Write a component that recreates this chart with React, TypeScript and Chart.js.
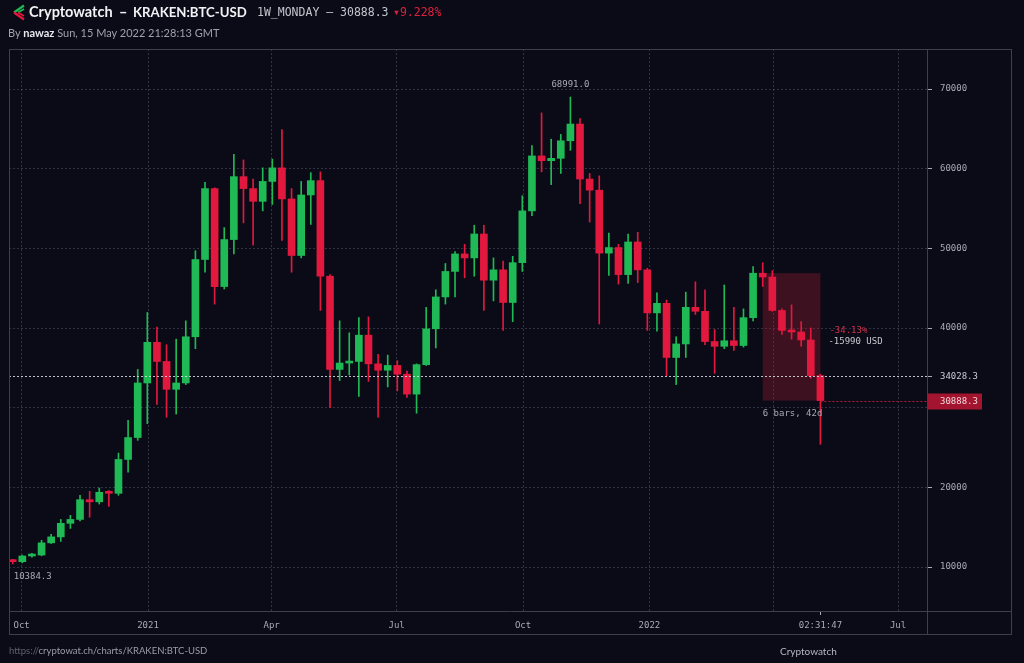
import React, { useEffect, useRef } from "react";
import { Chart, registerables } from "chart.js";

Chart.register(...registerables);

// ---------- DATA ----------
const firstWeek = "2020-09-28"; // weekly candles (Monday open), 85 weeks

const opens = [
  10780, 10670, 11380, 11500, 13030, 13780, 15480, 15970, 18450, 18180,
  19380, 19250, 23500, 26250, 33100, 38200, 35800, 32300, 33100, 38900,
  48600, 57500, 45200, 51100, 59000, 57500, 55900, 58400, 60100, 56200,
  49100, 56700, 58500, 46500, 34800, 35600, 35800, 39100, 35500, 34700,
  35300, 34200, 31700, 35400, 39900, 43900, 47100, 49300, 48800, 51800,
  46000, 47300, 43200, 48200, 54700, 61600, 61000, 61300, 63500, 65600,
  58700, 57300, 49400, 50100, 46700, 50800, 47300, 41900, 43100, 36300,
  38000, 42600, 42100, 38300, 37700, 38400, 37800, 41300, 46878.3, 46400,
  42200, 39700, 39500, 38500, 34028.3,
];

const highs = [
  10960, 11490, 11720, 13350, 14100, 15970, 16480, 19000, 19500, 19920,
  19600, 24300, 28400, 34800, 41950, 40100, 37900, 38600, 40900, 49700,
  58300, 57600, 52600, 61800, 61100, 58700, 60100, 61200, 64900, 57500,
  58400, 59500, 59600, 46700, 40900, 39400, 41300, 41400, 36700, 36600,
  35900, 34600, 35500, 42600, 44800, 48100, 49600, 50500, 52900, 52900,
  48800, 48400, 49000, 56600, 62900, 67000, 63700, 64300, 68991.0, 66300,
  59400, 59100, 51900, 50500, 51800, 52000, 47500, 44400, 43500, 38900,
  44500, 45800, 44800, 39800, 45400, 42600, 42400, 47700, 48200, 47200,
  42400, 42900, 40800, 40000, 34200,
];

const lows = [
  10384.3, 10530, 11220, 11410, 12950, 13210, 14840, 15790, 16250, 17900,
  17600, 19000, 21900, 25900, 28000, 30400, 28800, 29200, 32900, 37400,
  47000, 43000, 44900, 49300, 53200, 50400, 54700, 55500, 51000, 47000,
  48800, 53000, 42200, 30000, 33400, 34100, 31400, 33300, 28800, 32600,
  32100, 31300, 29300, 35300, 37500, 43000, 43900, 46300, 46500, 42200,
  43400, 39700, 40800, 47100, 54100, 59600, 58000, 59400, 62300, 55600,
  53300, 40500, 46600, 45500, 45600, 45700, 39700, 39600, 34000, 32900,
  36300, 41700, 37900, 34300, 37400, 37200, 37600, 40900, 45200, 42100,
  39200, 38600, 37700, 33700, 25400,
];

const closes = [
  10670, 11380, 11500, 13030, 13780, 15480, 15970, 18450, 18180, 19380,
  19250, 23500, 26250, 33100, 38200, 35800, 32300, 33100, 38900, 48600,
  57500, 45200, 51100, 59000, 57500, 55900, 58400, 60100, 56200, 49100,
  56700, 58500, 46500, 34800, 35600, 35800, 39100, 35500, 34700, 35300,
  34200, 31700, 35400, 39900, 43900, 47100, 49300, 48800, 51800, 46000,
  47300, 43200, 48200, 54700, 61600, 61000, 61300, 63500, 65600, 58700,
  57300, 49400, 50100, 46700, 50800, 47300, 41900, 43100, 36300, 38000,
  42600, 42100, 38300, 37700, 38400, 37800, 41300, 46878.3, 46400, 42200,
  39700, 39500, 38500, 34028.3, 30888.3,
];

const yTickValues = [10000, 20000, 30000, 40000, 50000, 60000, 70000];
const hiddenYTickValues = [30000];
const xTickDates = [
  "2020-10-01", "2021-01-01", "2021-04-01", "2021-07-01",
  "2021-10-01", "2022-01-01", "2022-04-01", "2022-07-01",
];
const xTickLabels = ["Oct", "2021", "Apr", "Jul", "Oct", "2022", "", "Jul"];
const countdownText = "02:31:47";
const previousClose = 34028.3;
const lastPrice = 30888.3;
const measureStartIndex = 78;
const measureEndIndex = 84;
const measureStartPrice = 46878.3;
const measureLabels = ["-34.13%", "-15990 USD", "6 bars, 42d"];

// ---------- STYLE ----------
const BG = "#0a0b16";
const UP = "#1fb955";
const DOWN = "#e3183f";
const GRID = "rgba(140,145,165,0.30)";
const TEXT = "#a8aab6";
const FRAME = "#3c3f4c";
const MONO = '"DejaVu Sans Mono", monospace';
const SANS = 'Lato, "Open Sans", sans-serif';

const DAY_MS = 86400000;
const EPOCH = Date.UTC(2021, 0, 1);
function dayOf(iso: string): number {
  const [y, m, d] = iso.split("-").map(Number);
  return (Date.UTC(y, m - 1, d) - EPOCH) / DAY_MS;
}
const CANDLE_SHIFT = 3.5;
const candleX = opens.map((_, i) => dayOf(firstWeek) + 7 * i - CANDLE_SHIFT);
const X_MIN = -101.2;
const X_MAX = 567.1;
const Y_MIN = 4477;
const Y_MAX = 75021;

const overlayPlugin = {
  id: "overlay",
  beforeDatasetsDraw(chart: any) {
    const { ctx, scales } = chart;
    const x = scales.x;
    const y = scales.y;
    const x0 = x.getPixelForValue(candleX[measureStartIndex]);
    const x1 = x.getPixelForValue(candleX[measureEndIndex]);
    const y0 = y.getPixelForValue(measureStartPrice);
    const y1 = y.getPixelForValue(closes[measureEndIndex]);
    ctx.save();
    ctx.fillStyle = "rgba(160,30,50,0.34)";
    ctx.fillRect(x0, y0, x1 - x0, y1 - y0);
    ctx.restore();
  },
  afterDatasetsDraw(chart: any) {
    const { ctx, chartArea: a, scales } = chart;
    const x = scales.x;
    const y = scales.y;
    const last = closes.length - 1;
    ctx.save();
    ctx.font = `9px ${MONO}`;
    ctx.lineWidth = 1;

    // previous close dotted line
    const yp = Math.round(y.getPixelForValue(previousClose)) + 0.5;
    ctx.strokeStyle = "rgba(225,226,235,0.85)";
    ctx.setLineDash([2, 2]);
    ctx.beginPath();
    ctx.moveTo(a.left, yp);
    ctx.lineTo(a.right, yp);
    ctx.stroke();

    // last price dotted line
    const xl = x.getPixelForValue(candleX[last]);
    const yl = Math.round(y.getPixelForValue(lastPrice)) + 0.5;
    ctx.strokeStyle = "#b8163a";
    ctx.beginPath();
    ctx.moveTo(xl, yl);
    ctx.lineTo(a.right, yl);
    ctx.stroke();
    ctx.setLineDash([]);

    // right axis: previous close label
    ctx.strokeStyle = TEXT;
    ctx.beginPath();
    ctx.moveTo(a.right, yp);
    ctx.lineTo(a.right + 5, yp);
    ctx.stroke();
    ctx.textAlign = "left";
    ctx.textBaseline = "middle";
    ctx.fillStyle = "#c9cbd4";
    ctx.fillText(previousClose.toFixed(1), a.right + 13, yp);

    // right axis: last price box
    ctx.fillStyle = "#a3152f";
    ctx.fillRect(a.right, yl - 8, 55, 16);
    ctx.fillStyle = "#f1d5da";
    ctx.fillText(lastPrice.toFixed(1), a.right + 13, yl + 0.5);

    // max / min labels
    let hi = 0;
    let lo = 0;
    highs.forEach((v, i) => { if (v > highs[hi]) hi = i; });
    lows.forEach((v, i) => { if (v < lows[lo]) lo = i; });
    ctx.fillStyle = TEXT;
    ctx.textAlign = "center";
    ctx.fillText(highs[hi].toFixed(1), x.getPixelForValue(candleX[hi]), y.getPixelForValue(highs[hi]) - 12);
    ctx.textAlign = "left";
    ctx.fillText(lows[lo].toFixed(1), x.getPixelForValue(candleX[lo]) + 1, y.getPixelForValue(lows[lo]) + 13);

    // measure labels
    const mx0 = x.getPixelForValue(candleX[measureStartIndex]);
    const mx1 = x.getPixelForValue(candleX[measureEndIndex]);
    const my0 = y.getPixelForValue(measureStartPrice);
    const my1 = y.getPixelForValue(closes[measureEndIndex]);
    const mid = (my0 + my1) / 2;
    ctx.fillStyle = "#d3304b";
    ctx.fillText(measureLabels[0], mx1 + 9, mid - 6);
    ctx.fillStyle = "#c5c7cf";
    ctx.fillText(measureLabels[1], mx1 + 8, mid + 5);
    ctx.fillStyle = TEXT;
    ctx.fillText(measureLabels[2], mx0, my1 + 13);

    // countdown on x axis
    ctx.strokeStyle = TEXT;
    ctx.beginPath();
    ctx.moveTo(Math.round(xl) + 0.5, a.bottom);
    ctx.lineTo(Math.round(xl) + 0.5, a.bottom + 4);
    ctx.stroke();
    ctx.textAlign = "center";
    ctx.fillStyle = TEXT;
    ctx.fillText(countdownText, xl, a.bottom + 15);
    ctx.restore();
  },
  afterDraw(chart: any) {
    const { ctx, chartArea: a } = chart;
    ctx.save();
    ctx.strokeStyle = FRAME;
    ctx.lineWidth = 1;
    ctx.strokeRect(9.5, 49.5, 1002, 585);
    ctx.beginPath();
    ctx.moveTo(Math.round(a.right) + 0.5, 49.5);
    ctx.lineTo(Math.round(a.right) + 0.5, 634.5);
    ctx.moveTo(9.5, Math.round(a.bottom) + 0.5);
    ctx.lineTo(1011.5, Math.round(a.bottom) + 0.5);
    ctx.stroke();
    ctx.restore();
  },
};

function CandleChart() {
  const ref = useRef<HTMLCanvasElement | null>(null);
  useEffect(() => {
    if (!ref.current) return;
    const colors = opens.map((o, i) => (closes[i] >= o ? UP : DOWN));
    const chart = new Chart(ref.current, {
      type: "bar",
      data: {
        datasets: [
          {
            label: "body",
            data: candleX.map((xv, i) => ({ x: xv, y: [opens[i], closes[i]] })) as any,
            backgroundColor: colors,
            barThickness: 7,
            minBarLength: 2,
            borderWidth: 0,
            borderSkipped: false,
            grouped: false,
            order: 0,
          } as any,
          {
            label: "wick",
            data: candleX.map((xv, i) => ({ x: xv, y: [lows[i], highs[i]] })) as any,
            backgroundColor: colors,
            barThickness: 1,
            borderWidth: 0,
            borderSkipped: false,
            grouped: false,
            order: 1,
          } as any,
        ],
      },
      options: {
        animation: false,
        responsive: true,
        maintainAspectRatio: false,
        events: [],
        layout: { padding: { left: 9, top: 49, right: 12, bottom: 28 } },
        plugins: { legend: { display: false }, tooltip: { enabled: false } },
        scales: {
          x: {
            type: "linear",
            min: X_MIN,
            max: X_MAX,
            offset: false,
            afterBuildTicks: (scale: any) => {
              scale.ticks = xTickDates.map((d) => ({ value: dayOf(d) }));
            },
            afterFit: (scale: any) => {
              scale.height = 24;
            },
            ticks: {
              autoSkip: false,
              maxRotation: 0,
              padding: 9,
              color: TEXT,
              font: { family: MONO, size: 9 },
              callback: (_v: any, i: number) => xTickLabels[i],
            },
            grid: { color: GRID, lineWidth: 1, drawTicks: false, offset: false },
            border: { display: false, dash: [2, 2] },
          } as any,
          y: {
            type: "linear",
            position: "right",
            min: Y_MIN,
            max: Y_MAX,
            afterBuildTicks: (scale: any) => {
              scale.ticks = yTickValues.map((v) => ({ value: v }));
            },
            afterFit: (scale: any) => {
              scale.width = 85;
            },
            ticks: {
              padding: 8,
              color: TEXT,
              font: { family: MONO, size: 9 },
              callback: (v: any) => (hiddenYTickValues.includes(Number(v)) ? "" : String(v)),
            },
            grid: {
              color: GRID,
              lineWidth: 1,
              offset: false,
              drawTicks: true,
              tickLength: 5,
              tickColor: TEXT,
              tickBorderDash: [],
            },
            border: { display: false, dash: [2, 2] },
          } as any,
        },
      },
      plugins: [overlayPlugin],
    });
    return () => chart.destroy();
  }, []);
  return <canvas ref={ref} />;
}

function Logo() {
  return (
    <svg width="17" height="17" viewBox="0 0 17 17" style={{ position: "absolute", left: 10, top: 4 }}>
      <polyline points="14,1.5 4,8.5" stroke="#1fb955" strokeWidth="2.2" fill="none" />
      <polyline points="14,5 8,8.5" stroke="#1fb955" strokeWidth="1.6" fill="none" />
      <polyline points="4,8.5 14,15.5" stroke="#e3183f" strokeWidth="2.2" fill="none" />
      <polyline points="8,8.5 14,12" stroke="#e3183f" strokeWidth="1.6" fill="none" />
    </svg>
  );
}

export default function App() {
  useEffect(() => {
    document.body.style.margin = "0";
    document.body.style.background = BG;
  }, []);
  const headBold: React.CSSProperties = {
    position: "absolute",
    top: 2,
    lineHeight: "20px",
    fontFamily: SANS,
    fontWeight: 700,
    fontSize: 14.5,
    color: "#f2f2f6",
    whiteSpace: "nowrap",
  };
  const headMono: React.CSSProperties = {
    position: "absolute",
    top: 2,
    lineHeight: "20px",
    fontFamily: MONO,
    fontSize: 11.5,
    color: "#c3c5ce",
    whiteSpace: "nowrap",
  };
  return (
    <div style={{ position: "fixed", left: 0, top: 0, width: 1024, height: 663, background: BG, overflow: "hidden" }}>
      <div style={{ position: "absolute", left: 0, top: 0, width: 1024, height: 663 }}>
        <CandleChart />
      </div>
      <Logo />
      <span style={{ ...headBold, left: 29 }}>Cryptowatch</span>
      <span style={{ ...headBold, left: 119 }}>–</span>
      <span style={{ ...headBold, left: 133, fontSize: 13.2 }}>KRAKEN:BTC-USD</span>
      <span style={{ ...headMono, left: 257 }}>1W_MONDAY – 30888.3</span>
      <span style={{ ...headMono, left: 393, color: "#e0203f" }}>▾9.228%</span>
      <div
        style={{
          position: "absolute",
          left: 8,
          top: 25,
          lineHeight: "16px",
          fontFamily: SANS,
          fontSize: 11,
          color: "#9fa1ad",
          whiteSpace: "nowrap",
        }}
      >
        By <b style={{ color: "#e8e8ee" }}>nawaz</b> Sun, 15 May 2022 21:28:13 GMT
      </div>
      <div
        style={{
          position: "absolute",
          left: 9,
          top: 644,
          lineHeight: "14px",
          fontFamily: SANS,
          fontSize: 9.5,
          color: "#9a9ca8",
          whiteSpace: "nowrap",
        }}
      >
        <span style={{ color: "#5d606c" }}>https://</span>cryptowat.ch/charts/KRAKEN:BTC-USD
      </div>
      <div
        style={{
          position: "absolute",
          left: 780,
          top: 644,
          lineHeight: "14px",
          fontFamily: SANS,
          fontSize: 10,
          color: "#b5b7c0",
          whiteSpace: "nowrap",
        }}
      >
        Cryptowatch
      </div>
    </div>
  );
}
